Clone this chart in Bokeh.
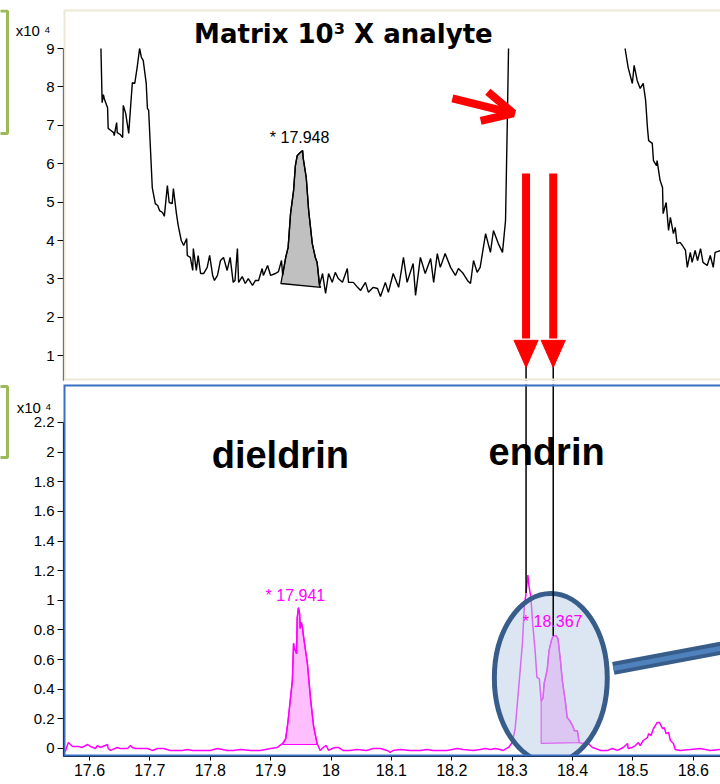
from bokeh.plotting import figure
from bokeh.models import Range1d, FixedTicker, Label, BoxAnnotation, Arrow, OpenHead, LinearAxis
from bokeh.layouts import column, row
from bokeh.embed import file_html
from bokeh.resources import INLINE

NaN = float("nan")

# ---------------- data ----------------
# top panel: matrix trace (x10^4 counts), retention time (min)
top_x = [17.619, 17.621, 17.623, 17.625, 17.628, 17.630, 17.631, 17.636, 17.640, 17.641,
         17.645, 17.646, 17.648, 17.651, 17.655, 17.656, 17.660, 17.665, 17.668, 17.671,
         17.675, 17.679, 17.683, 17.686, 17.689, 17.694, 17.696, 17.698, 17.704, 17.709,
         17.713, 17.716, 17.721, 17.724, 17.729, 17.732, 17.737, 17.739, 17.744, 17.747,
         17.752, 17.756, 17.761, 17.762, 17.767, 17.771, 17.772, 17.777, 17.780, 17.784,
         17.789, 17.795, 17.799, 17.804, 17.807, 17.812, 17.817, 17.822, 17.828, 17.833,
         17.838, 17.841, 17.845, 17.847, 17.853, 17.858, 17.863, 17.870, 17.875, 17.880,
         17.886, 17.888, 17.895, 17.900, 17.908, 17.913, 17.918, 17.920, 17.925, 17.929,
         17.933, 17.938, 17.941, 17.944, 17.949, 17.953, 17.954, 17.959, 17.963, 17.969,
         17.974, 17.977, 17.981, 17.986, 17.991, 17.996, 18.002, 18.007, 18.012, 18.019,
         18.027, 18.029, 18.037, 18.044, 18.049, 18.057, 18.062, 18.070, 18.077, 18.082,
         18.090, 18.095, 18.103, 18.112, 18.120, 18.126, 18.136, 18.140, 18.148, 18.156,
         18.165, 18.170, 18.176, 18.181, 18.189, 18.198, 18.206, 18.211, 18.219, 18.226,
         18.231, 18.236, 18.242, 18.247, 18.256, 18.264, 18.269, 18.277, 18.284, 18.289,
         18.292, 18.294,
         NaN,
         18.487, 18.492, 18.499, 18.502, 18.507, 18.512, 18.517, 18.521, 18.524, 18.526,
         18.532, 18.534, 18.539, 18.540, 18.545, 18.549, 18.550, 18.555, 18.559, 18.562,
         18.567, 18.570, 18.573, 18.578, 18.582, 18.587, 18.590, 18.595, 18.598, 18.603,
         18.607, 18.612, 18.616, 18.623, 18.628, 18.633, 18.636, 18.645]
top_v = [9.00, 7.59, 7.80, 7.67, 7.54, 7.46, 6.92, 6.86, 6.81, 6.73,
         7.07, 6.81, 6.79, 6.76, 6.68, 7.52, 7.31, 6.79, 7.46, 8.11,
         8.09, 8.51, 9.00, 8.77, 8.69, 8.09, 7.44, 7.39, 5.38, 4.96,
         4.91, 4.78, 4.73, 4.63, 5.43, 4.99, 4.96, 5.35, 4.70, 4.39,
         4.00, 3.87, 4.05, 3.61, 3.56, 3.22, 3.79, 3.22, 3.61, 3.14,
         3.14, 3.30, 3.61, 3.09, 2.96, 3.09, 3.48, 3.56, 3.22, 3.56,
         2.91, 2.96, 3.79, 2.91, 3.06, 2.88, 3.01, 2.83, 2.96, 2.96,
         3.27, 3.09, 3.35, 3.09, 3.14, 3.19, 3.48, 3.09, 3.56, 3.82,
         4.70, 5.30, 5.95, 6.21, 6.29, 6.34, 6.14, 5.64, 4.78, 3.92,
         3.56, 3.43, 2.83, 3.14, 2.62, 3.14, 2.91, 3.17, 3.01, 2.91,
         3.27, 2.91, 2.91, 2.78, 2.70, 2.91, 2.65, 2.78, 2.75, 2.54,
         2.91, 2.65, 3.14, 2.78, 3.56, 2.91, 3.40, 2.57, 3.56, 3.14,
         3.53, 2.91, 3.66, 3.30, 3.66, 3.30, 3.09, 3.27, 3.14, 2.96,
         2.88, 3.48, 3.17, 3.30, 4.18, 3.69, 4.26, 3.92, 3.69, 4.52,
         7.13, 9.00,
         NaN,
         9.00, 8.51, 8.09, 8.56, 8.17, 7.96, 8.09, 7.65, 6.94, 6.60,
         6.53, 6.08, 5.95, 6.08, 5.56, 5.38, 4.70, 4.99, 4.26, 4.60,
         4.18, 4.34, 3.92, 3.95, 3.87, 3.74, 3.30, 3.69, 3.43, 3.74,
         3.48, 3.79, 3.43, 3.35, 3.61, 3.30, 3.69, 3.74]

# integrated peak in the matrix trace
top_peak_x = [17.917, 17.925, 17.929, 17.933, 17.938, 17.941, 17.944, 17.949, 17.953,
              17.954, 17.959, 17.963, 17.969, 17.974, 17.977, 17.981, 17.983]
top_peak_v = [2.88, 3.56, 3.82, 4.70, 5.30, 5.95, 6.21, 6.29, 6.34,
              6.14, 5.64, 4.78, 3.92, 3.56, 3.43, 2.83, 2.78]
top_peak_rt = 17.948

# bottom panel: analyte trace (x10^4 counts)
bot_x = [17.560, 17.565, 17.572, 17.582, 17.588, 17.597, 17.602, 17.610, 17.613, 17.618,
         17.626, 17.630, 17.631, 17.635, 17.646, 17.651, 17.663, 17.668, 17.671, 17.676,
         17.684, 17.696, 17.704, 17.713, 17.723, 17.734, 17.746, 17.754, 17.762, 17.771,
         17.784, 17.800, 17.812, 17.828, 17.838, 17.850, 17.867, 17.883, 17.900, 17.911,
         17.920, 17.925, 17.929, 17.936, 17.938, 17.939, 17.943, 17.944, 17.946, 17.948,
         17.949, 17.951, 17.953, 17.954, 17.961, 17.966, 17.971, 17.977, 17.982, 17.987,
         17.992, 17.996, 18.002, 18.007, 18.012, 18.020, 18.031, 18.043, 18.059, 18.070,
         18.082, 18.093, 18.098, 18.103, 18.114, 18.131, 18.148, 18.159, 18.169, 18.192,
         18.209, 18.219, 18.236, 18.247, 18.256, 18.264, 18.272, 18.280, 18.285, 18.294,
         18.300, 18.305, 18.310, 18.317, 18.320, 18.323, 18.326, 18.328, 18.331, 18.334,
         18.338, 18.341, 18.345, 18.348, 18.351, 18.353, 18.358, 18.361, 18.365, 18.368,
         18.373, 18.376, 18.380, 18.383, 18.388, 18.391, 18.395, 18.400, 18.403, 18.408,
         18.411, 18.416, 18.421, 18.426, 18.433, 18.438, 18.446, 18.458, 18.466, 18.474,
         18.484, 18.491, 18.492, 18.499, 18.504, 18.509, 18.512, 18.517, 18.524, 18.526,
         18.530, 18.534, 18.537, 18.540, 18.544, 18.549, 18.552, 18.555, 18.559, 18.562,
         18.567, 18.570, 18.578, 18.595, 18.612, 18.628, 18.645]
bot_v = [-0.020, 0.040, 0.013, 0.013, 0.007, 0.027, 0.013, 0.000, 0.020, 0.007,
         0.020, 0.027, 0.000, -0.013, 0.007, 0.000, 0.000, 0.020, 0.007, 0.000,
         0.000, 0.000, -0.013, 0.000, 0.000, -0.013, -0.013, -0.013, -0.007, -0.013,
         -0.013, -0.013, 0.000, -0.013, -0.013, -0.007, -0.013, -0.013, 0.000, 0.007,
         0.034, 0.067, 0.190, 0.460, 0.710, 0.680, 0.640, 0.880, 0.950, 0.910,
         0.810, 0.850, 0.810, 0.770, 0.570, 0.340, 0.155, 0.034, -0.013, 0.007,
         0.020, -0.013, 0.000, 0.007, 0.007, -0.013, -0.013, -0.007, -0.013, 0.000,
         0.000, -0.013, -0.027, -0.013, -0.007, -0.013, -0.013, -0.007, -0.013, -0.013,
         0.000, -0.007, -0.013, -0.007, 0.000, -0.007, 0.000, -0.007, -0.013, 0.007,
         0.040, 0.135, 0.370, 0.710, 0.950, 1.050, 1.170, 1.090, 1.020, 0.840,
         0.660, 0.480, 0.470, 0.320, 0.340, 0.440, 0.530, 0.660, 0.730, 0.760,
         0.760, 0.740, 0.590, 0.460, 0.320, 0.210, 0.190, 0.155, 0.120, 0.120,
         0.040, 0.034, 0.040, 0.034, 0.007, 0.000, -0.013, -0.013, 0.000, -0.013,
         0.007, 0.034, 0.000, 0.007, 0.020, 0.040, 0.020, 0.054, 0.074, 0.100,
         0.088, 0.135, 0.155, 0.175, 0.175, 0.135, 0.140, 0.100, 0.108, 0.054,
         0.034, -0.007, -0.013, -0.007, 0.000, -0.013, -0.007]

dieldrin_x = [17.920, 17.925, 17.929, 17.936, 17.938, 17.939, 17.943, 17.944, 17.946,
              17.948, 17.949, 17.951, 17.953, 17.954, 17.961, 17.966, 17.971, 17.977]
dieldrin_v = [0.027, 0.067, 0.190, 0.460, 0.710, 0.680, 0.640, 0.880, 0.950,
              0.910, 0.810, 0.850, 0.810, 0.770, 0.570, 0.340, 0.155, 0.027]
dieldrin_rt = 17.941

endrin_x = [18.348, 18.348, 18.351, 18.353, 18.358, 18.361, 18.365, 18.368, 18.373, 18.376,
            18.380, 18.383, 18.388, 18.391, 18.395, 18.400, 18.403, 18.408, 18.411]
endrin_v = [0.034, 0.320, 0.340, 0.440, 0.530, 0.660, 0.730, 0.760, 0.760, 0.740,
            0.590, 0.460, 0.320, 0.210, 0.190, 0.155, 0.120, 0.120, 0.040]
endrin_rt = 18.367

# markers linking the panels (retention times of the two endrin-region peaks)
marker_x = [18.323, 18.368]
marker_peak_v = [1.05, 0.76]

x_tick_vals = [17.6, 17.7, 17.8, 17.9, 18.0, 18.1, 18.2, 18.3, 18.4, 18.5, 18.6]
x_tick_labels = ["17.6", "17.7", "17.8", "17.9", "18", "18.1", "18.2", "18.3", "18.4", "18.5", "18.6"]
top_y_ticks = [1, 2, 3, 4, 5, 6, 7, 8, 9]
bot_y_ticks = [0.0, 0.2, 0.4, 0.6, 0.8, 1.0, 1.2, 1.4, 1.6, 1.8, 2.0, 2.2]
bot_y_labels = ["0", "0.2", "0.4", "0.6", "0.8", "1", "1.2", "1.4", "1.6", "1.8", "2", "2.2"]
scale_text = "x10 ⁴"

# ---------------- styling ----------------
FONT = "Liberation Sans"
MAGENTA = "#ff00ff"
X_RANGE = Range1d(17.557, 18.645)
STRIP_W = 10


def style_yaxis(ax, ticks, bounds, labels=None):
    ax.ticker = FixedTicker(ticks=ticks)
    ax.bounds = bounds
    ax.major_tick_out = 6
    ax.major_tick_in = 0
    ax.minor_tick_out = 0
    ax.minor_tick_in = 0
    ax.axis_line_color = "black"
    ax.axis_line_width = 1.2
    ax.major_tick_line_color = "black"
    ax.major_tick_line_width = 1.2
    ax.major_label_text_font = FONT
    ax.major_label_text_font_size = "15px"
    ax.major_label_text_color = "black"
    ax.major_label_standoff = 3
    if labels is not None:
        ax.major_label_overrides = {float(v): l for v, l in zip(ticks, labels)}


def scale_axis(fig, at, standoff):
    ax = LinearAxis(ticker=FixedTicker(ticks=[at]),
                    major_label_overrides={float(at): scale_text},
                    axis_line_color=None, major_tick_line_color=None,
                    major_tick_out=0, major_tick_in=0, minor_tick_out=0, minor_tick_in=0,
                    major_label_standoff=standoff, major_label_text_font=FONT,
                    major_label_text_font_size="15px", major_label_text_color="black")
    fig.add_layout(ax, "left")


def strip(height, bottom, top_):
    # the strip's frame is aligned with the neighbouring panel's frame
    s = figure(width=STRIP_W, height=height, x_range=Range1d(0, STRIP_W), y_range=Range1d(0, height),
               output_backend="svg", toolbar_location=None, x_axis_location=None,
               y_axis_location=None, min_border=0, min_border_left=0, min_border_right=0,
               min_border_top=0, min_border_bottom=0)
    s.grid.visible = False
    s.outline_line_color = None
    s.add_layout(BoxAnnotation(left=-10, right=7, bottom=bottom, top=top_,
                               left_units="screen", right_units="screen",
                               bottom_units="screen", top_units="screen",
                               fill_alpha=0, line_alpha=1, line_color="#9bbb59", line_width=3))
    return s


# ---------------- top panel ----------------
top = figure(width=720 - STRIP_W, height=382, x_range=X_RANGE, y_range=Range1d(0.354, 10.016),
             output_backend="svg", toolbar_location=None, x_axis_location=None,
             min_border_left=63 - STRIP_W, min_border_right=0, min_border_top=9, min_border_bottom=2)
top.grid.visible = False
top.outline_line_color = None
top.border_fill_color = "white"
style_yaxis(top.yaxis[0], top_y_ticks, (0.354, 9))
scale_axis(top, 9.47, -7)

top.add_layout(BoxAnnotation(left=17.557, right=18.70, bottom=0.354, top=10.016,
                             fill_alpha=0, line_alpha=1, line_color="#ebe8d6", line_width=4))

top.patch(top_peak_x, top_peak_v, fill_color="#c0c0c0", line_color="black", line_width=1.3)
top.line(top_x, top_v, line_color="black", line_width=1.4)
top.add_layout(Label(x=top_peak_rt, y=max(top_peak_v) + 0.12, text="* %.3f" % top_peak_rt,
                     text_align="center", text_baseline="bottom", text_font=FONT,
                     text_font_size="16px", text_color="black"))

# link lines (under the red arrows)
top.segment(x0=marker_x, y0=[1.2, 1.2], x1=marker_x, y1=[0.2, 0.2], line_color="black", line_width=1.5)

# vertical red arrows
shaft_top, head_base, head_tip, head_half = 5.745, 1.40, 0.693, 0.02
top.segment(x0=marker_x, y0=[shaft_top] * 2, x1=marker_x, y1=[head_base + 0.05] * 2,
            line_color="#ff0000", line_width=8)
top.patches([[mx - head_half, mx + head_half, mx] for mx in marker_x],
            [[head_base, head_base, head_tip] for _ in marker_x],
            fill_color="#ff0000", line_color="#ff0000", line_width=1)

# diagonal red arrow
top.add_layout(Arrow(end=OpenHead(size=30, line_color="#ff0000", line_width=8),
                     x_start=18.201, y_start=7.70, x_end=18.302, y_end=7.31,
                     line_color="#ff0000", line_width=8))

top.add_layout(Label(x=18.0205, y=9.39, text="Matrix 10³ X analyte", text_align="center",
                     text_baseline="alphabetic", text_font="DejaVu Sans", text_font_style="bold",
                     text_font_size="26px", text_color="black"))

# ---------------- bottom panel ----------------
bot = figure(width=720 - STRIP_W, height=402, x_range=X_RANGE, y_range=Range1d(-0.054, 2.456),
             output_backend="svg", toolbar_location=None,
             min_border_left=63 - STRIP_W, min_border_right=0, min_border_top=2, min_border_bottom=28)
bot.grid.visible = False
bot.outline_line_color = None
bot.border_fill_color = "white"
style_yaxis(bot.yaxis[0], bot_y_ticks, (-0.054, 2.2), bot_y_labels)
scale_axis(bot, 2.301, -21)

xa = bot.xaxis[0]
xa.ticker = FixedTicker(ticks=x_tick_vals)
xa.major_label_overrides = {float(v): l for v, l in zip(x_tick_vals, x_tick_labels)}
xa.major_tick_out = 4
xa.major_tick_in = 0
xa.minor_tick_out = 0
xa.minor_tick_in = 0
xa.axis_line_color = "black"
xa.axis_line_width = 1
xa.major_label_text_font = FONT
xa.major_label_text_font_size = "16px"
xa.major_label_text_color = "black"
xa.major_label_standoff = 3

bot.patch(dieldrin_x, dieldrin_v, fill_color="#ffbfff", line_color=MAGENTA, line_width=1.2)
bot.patch(endrin_x, endrin_v, fill_color="#ffbfff", line_color=MAGENTA, line_width=1.2)
bot.line(bot_x, bot_v, line_color=MAGENTA, line_width=1.5)

bot.add_layout(Label(x=dieldrin_rt, y=1.03, text="* %.3f" % dieldrin_rt, text_align="center",
                     text_baseline="middle", text_font=FONT, text_font_size="16px",
                     text_color=MAGENTA))
bot.add_layout(Label(x=endrin_rt, y=0.857, text="* %.3f" % endrin_rt, text_align="center",
                     text_baseline="middle", text_font=FONT, text_font_size="16px",
                     text_color=MAGENTA))

# highlight ellipse
bot.ellipse(x=[18.364], y=[0.476], width=[0.187], height=[1.14], fill_color="#b9cde5",
            fill_alpha=0.5, line_color="#385d8a", line_width=5)

# link lines
bot.segment(x0=marker_x, y0=[2.6, 2.6], x1=marker_x, y1=marker_peak_v, line_color="black",
            line_width=1.5)

# callout bar
bot.segment(x0=[18.4675], y0=[0.54], x1=[18.661], y1=[0.688], line_color="#385d8a", line_width=13)
bot.segment(x0=[18.4675], y0=[0.54], x1=[18.661], y1=[0.688], line_color="#4f81bd", line_width=5)

bot.add_layout(BoxAnnotation(left=17.557, right=18.70, bottom=-0.054, top=2.456,
                             fill_alpha=0, line_alpha=1, line_color="#3b6fc6", line_width=4))

bot.add_layout(Label(x=17.916, y=1.98, text="dieldrin", text_align="center",
                     text_baseline="middle", text_font=FONT, text_font_style="bold",
                     text_font_size="38px", text_color="black"))
bot.add_layout(Label(x=18.357, y=2.00, text="endrin", text_align="center",
                     text_baseline="middle", text_font=FONT, text_font_style="bold",
                     text_font_size="38px", text_color="black"))

# strip frames line up with the panel frames (top: 9..380 px, bottom: 384..756 px)
layout = column(row(strip(382, 380 - 133, 380 - 10.5), top, spacing=0),
                row(strip(402, 756 - 457, 756 - 386 - 384 + 384 - 0), bot, spacing=0), spacing=0)
open("out.html", "w").write(file_html(layout, INLINE))
